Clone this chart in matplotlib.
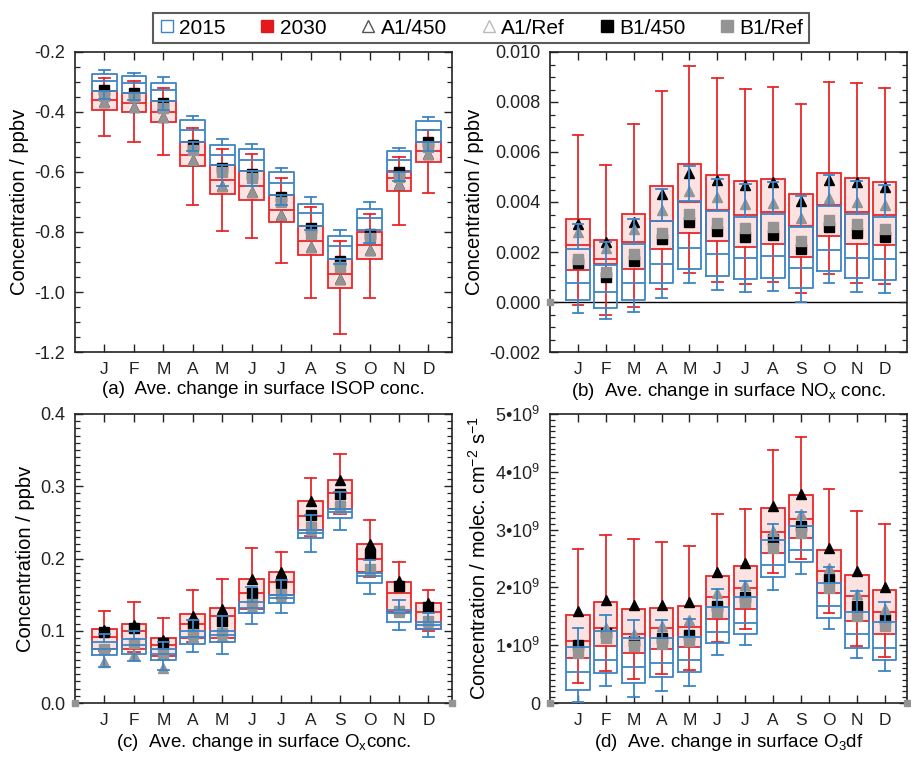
import numpy as np
import matplotlib
matplotlib.use('Agg')
import matplotlib.pyplot as plt
from matplotlib.lines import Line2D
from matplotlib.ticker import MultipleLocator, NullLocator

plt.rcParams['font.family'] = ['Liberation Sans', 'DejaVu Sans']
plt.rcParams['axes.unicode_minus'] = False
plt.rcParams['mathtext.fontset'] = 'custom'
plt.rcParams['mathtext.rm'] = 'Liberation Sans'
plt.rcParams['mathtext.it'] = 'Liberation Sans:italic'

months = ['J', 'F', 'M', 'A', 'M', 'J', 'J', 'A', 'S', 'O', 'N', 'D']

# each row: [low whisker, q1, median, q3, high whisker]
# (a) ISOP, ppbv
isop_2015 = [[-0.355, -0.330, -0.297, -0.274, -0.260],
             [-0.360, -0.335, -0.303, -0.280, -0.270],
             [-0.392, -0.363, -0.325, -0.303, -0.284],
             [-0.530, -0.500, -0.461, -0.428, -0.414],
             [-0.648, -0.578, -0.542, -0.509, -0.491],
             [-0.648, -0.597, -0.559, -0.524, -0.505],
             [-0.711, -0.675, -0.635, -0.600, -0.585],
             [-0.794, -0.780, -0.737, -0.708, -0.683],
             [-0.905, -0.889, -0.847, -0.813, -0.794],
             [-0.835, -0.794, -0.752, -0.722, -0.700],
             [-0.630, -0.600, -0.560, -0.530, -0.520],
             [-0.530, -0.500, -0.460, -0.430, -0.415]]
isop_2030 = [[-0.480, -0.392, -0.361, -0.330, -0.288],
             [-0.500, -0.400, -0.369, -0.335, -0.297],
             [-0.543, -0.433, -0.400, -0.363, -0.319],
             [-0.711, -0.581, -0.543, -0.500, -0.453],
             [-0.798, -0.672, -0.625, -0.578, -0.524],
             [-0.820, -0.692, -0.648, -0.597, -0.541],
             [-0.903, -0.767, -0.725, -0.675, -0.620],
             [-1.020, -0.878, -0.830, -0.780, -0.717],
             [-1.140, -0.987, -0.939, -0.889, -0.831],
             [-1.020, -0.889, -0.844, -0.800, -0.741],
             [-0.778, -0.663, -0.620, -0.595, -0.550],
             [-0.669, -0.565, -0.530, -0.500, -0.460]]
isop_a1_450 = [-0.368, -0.383, -0.417, -0.561, -0.648, -0.667, -0.744, -0.850, -0.955, -0.861, -0.640, -0.540]
isop_a1_ref = [-0.368, -0.383, -0.417, -0.561, -0.648, -0.667, -0.744, -0.850, -0.955, -0.861, -0.640, -0.540]
isop_b1_450 = [-0.328, -0.335, -0.370, -0.510, -0.585, -0.605, -0.683, -0.788, -0.898, -0.805, -0.600, -0.500]
isop_b1_ref = [-0.345, -0.350, -0.385, -0.525, -0.600, -0.620, -0.700, -0.805, -0.915, -0.820, -0.615, -0.515]

# (b) NOx, ppbv
nox_2015 = [[-0.00043, 0.00008, 0.00075, 0.00212, 0.00314],
            [-0.00066, -0.00023, 0.00041, 0.00149, 0.00241],
            [-0.00039, 0.00008, 0.00075, 0.00232, 0.00332],
            [0.00017, 0.00075, 0.00154, 0.00324, 0.00452],
            [0.00078, 0.00134, 0.00218, 0.00405, 0.00543],
            [0.00047, 0.00105, 0.00192, 0.00366, 0.00493],
            [0.00040, 0.00094, 0.00176, 0.00342, 0.00473],
            [0.00046, 0.00098, 0.00185, 0.00353, 0.00480],
            [0.00000, 0.00058, 0.00135, 0.00299, 0.00424],
            [0.00075, 0.00125, 0.00208, 0.00383, 0.00507],
            [0.00040, 0.00098, 0.00176, 0.00353, 0.00483],
            [0.00035, 0.00088, 0.00172, 0.00342, 0.00470]]
nox_2030 = [[-0.00012, 0.00127, 0.00228, 0.00331, 0.00670],
            [-0.00052, 0.00152, 0.00172, 0.00249, 0.00547],
            [-0.00019, 0.00134, 0.00241, 0.00351, 0.00712],
            [0.00053, 0.00212, 0.00324, 0.00464, 0.00844],
            [0.00118, 0.00276, 0.00399, 0.00551, 0.00946],
            [0.00082, 0.00245, 0.00370, 0.00507, 0.00895],
            [0.00071, 0.00221, 0.00350, 0.00483, 0.00852],
            [0.00082, 0.00232, 0.00360, 0.00493, 0.00862],
            [0.00035, 0.00181, 0.00305, 0.00433, 0.00791],
            [0.00111, 0.00265, 0.00390, 0.00516, 0.00882],
            [0.00075, 0.00232, 0.00360, 0.00497, 0.00875],
            [0.00071, 0.00228, 0.00350, 0.00480, 0.00855]]
nox_a1_450 = [0.00312, 0.00241, 0.00320, 0.00433, 0.00516, 0.00487, 0.00467, 0.00480, 0.00406, 0.00489, 0.00480, 0.00460]
nox_a1_ref = [0.00279, 0.00218, 0.00292, 0.00369, 0.00446, 0.00419, 0.00393, 0.00395, 0.00335, 0.00417, 0.00402, 0.00389]
nox_b1_450 = [0.00158, 0.00101, 0.00165, 0.00252, 0.00322, 0.00283, 0.00261, 0.00268, 0.00212, 0.00299, 0.00275, 0.00261]
nox_b1_ref = [0.00172, 0.00122, 0.00192, 0.00275, 0.00353, 0.00315, 0.00296, 0.00299, 0.00245, 0.00330, 0.00312, 0.00292]

# (c) Ox, ppbv
ox_2015 = [[0.050, 0.066, 0.075, 0.085, 0.095],
           [0.058, 0.068, 0.080, 0.088, 0.100],
           [0.045, 0.060, 0.068, 0.075, 0.085],
           [0.070, 0.082, 0.092, 0.100, 0.115],
           [0.068, 0.085, 0.094, 0.100, 0.120],
           [0.110, 0.124, 0.131, 0.140, 0.160],
           [0.125, 0.139, 0.145, 0.149, 0.170],
           [0.209, 0.228, 0.235, 0.239, 0.260],
           [0.239, 0.2565, 0.265, 0.269, 0.292],
           [0.151, 0.166, 0.176, 0.1795, 0.198],
           [0.101, 0.1125, 0.124, 0.129, 0.1425],
           [0.092, 0.103, 0.108, 0.1125, 0.125]]
ox_2030 = [[0.072, 0.075, 0.092, 0.102, 0.128],
           [0.070, 0.075, 0.100, 0.110, 0.140],
           [0.060, 0.065, 0.080, 0.090, 0.117],
           [0.085, 0.090, 0.110, 0.123, 0.156],
           [0.085, 0.090, 0.120, 0.132, 0.171],
           [0.125, 0.130, 0.152, 0.172, 0.215],
           [0.145, 0.149, 0.167, 0.182, 0.209],
           [0.231, 0.239, 0.259, 0.279, 0.312],
           [0.261, 0.2685, 0.291, 0.308, 0.345],
           [0.175, 0.182, 0.200, 0.220, 0.253],
           [0.124, 0.126, 0.152, 0.168, 0.195],
           [0.100, 0.103, 0.126, 0.138, 0.156]]
ox_a1_450 = [0.101, 0.108, 0.087, 0.120, 0.130, 0.172, 0.182, 0.279, 0.308, 0.220, 0.169, 0.138]
ox_a1_ref = [0.057, 0.066, 0.048, 0.092, 0.093, 0.133, 0.147, 0.240, 0.270, 0.183, 0.126, 0.110]
ox_b1_450 = [0.098, 0.104, 0.083, 0.110, 0.113, 0.152, 0.166, 0.260, 0.289, 0.206, 0.162, 0.133]
ox_b1_ref = [0.075, 0.083, 0.068, 0.095, 0.097, 0.137, 0.151, 0.243, 0.273, 0.186, 0.128, 0.114]

# (d) O3 dry deposition, in units of 1e9 molec cm-2 s-1
o3df_2015 = [[0.02, 0.22, 0.53, 0.97, 1.29],
             [0.30, 0.52, 0.75, 1.24, 1.53],
             [0.10, 0.35, 0.62, 1.12, 1.44],
             [0.20, 0.45, 0.69, 1.12, 1.44],
             [0.30, 0.54, 0.75, 1.14, 1.45],
             [0.83, 1.03, 1.23, 1.66, 1.98],
             [1.00, 1.20, 1.39, 1.84, 2.11],
             [1.95, 2.18, 2.38, 2.82, 3.09],
             [2.24, 2.44, 2.64, 3.06, 3.31],
             [1.28, 1.47, 1.68, 2.07, 2.36],
             [0.78, 0.95, 1.19, 1.58, 1.94],
             [0.55, 0.74, 0.96, 1.41, 1.75]]
o3df_2030 = [[0.35, 0.77, 1.07, 1.53, 2.66],
             [0.56, 0.99, 1.30, 1.75, 2.90],
             [0.42, 0.87, 1.19, 1.62, 2.83],
             [0.50, 0.93, 1.29, 1.65, 2.79],
             [0.57, 0.97, 1.32, 1.68, 2.72],
             [1.06, 1.46, 1.84, 2.19, 3.27],
             [1.28, 1.62, 1.99, 2.37, 3.36],
             [2.25, 2.59, 2.95, 3.37, 4.37],
             [2.50, 2.86, 3.19, 3.59, 4.60],
             [1.55, 1.91, 2.28, 2.64, 3.70],
             [0.99, 1.42, 1.85, 2.22, 3.33],
             [0.80, 1.20, 1.58, 1.95, 3.09]]
o3df_a1_450 = [1.59, 1.79, 1.69, 1.69, 1.75, 2.26, 2.43, 3.41, 3.62, 2.68, 2.28, 2.01]
o3df_a1_ref = [0.90, 1.30, 1.19, 1.33, 1.44, 1.90, 2.04, 2.97, 3.27, 2.33, 1.88, 1.62]
o3df_b1_450 = [1.00, 1.21, 1.07, 1.13, 1.17, 1.68, 1.84, 2.83, 3.07, 2.14, 1.68, 1.45]
o3df_b1_ref = [0.87, 1.13, 0.99, 1.02, 1.07, 1.57, 1.74, 2.68, 2.94, 1.99, 1.50, 1.33]

BLUE = '#3d85c6'
RED = '#e8262b'
PINK = '#fde2e2'
GRAY = '#949494'


def to_stats(rows):
    return [dict(whislo=r[0], q1=r[1], med=r[2], q3=r[3], whishi=r[4], fliers=[]) for r in rows]


def draw_panel(ax, s2015, s2030, a1_450, a1_ref, b1_450, b1_ref):
    x = np.arange(1, len(months) + 1)
    lw = 1.3
    ax.bxp(to_stats(s2030), positions=x, widths=0.84, capwidths=0.38,
           patch_artist=True, showfliers=False, manage_ticks=False,
           boxprops=dict(facecolor=PINK, edgecolor=RED, linewidth=lw),
           medianprops=dict(color=RED, linewidth=lw),
           whiskerprops=dict(color=RED, linewidth=lw),
           capprops=dict(color=RED, linewidth=lw), zorder=2)
    ax.plot(x, a1_450, ls='none', marker='^', color='black', ms=6.5, zorder=3)
    ax.plot(x, b1_450, ls='none', marker='s', color='black', ms=6.5, zorder=3)
    ax.plot(x, a1_ref, ls='none', marker='^', color=GRAY, ms=6.5, zorder=3)
    ax.plot(x, b1_ref, ls='none', marker='s', color=GRAY, ms=6.5, zorder=3)
    ax.bxp(to_stats(s2015), positions=x, widths=0.84, capwidths=0.38,
           showfliers=False, manage_ticks=False,
           boxprops=dict(color=BLUE, linewidth=lw),
           medianprops=dict(color=BLUE, linewidth=lw),
           whiskerprops=dict(color=BLUE, linewidth=lw),
           capprops=dict(color=BLUE, linewidth=lw), zorder=4)
    ax.set_xlim(0, 12.8)
    ax.set_xticks(x)
    ax.set_xticklabels(months, fontsize=12.5)
    ax.xaxis.set_minor_locator(NullLocator())
    ax.tick_params(which='both', direction='in', top=True, right=True, colors='#222222')
    ax.tick_params(which='major', length=6, width=1.0, pad=7)
    ax.tick_params(which='minor', length=3.5, width=0.9)
    ax.tick_params(axis='y', labelsize=13)
    for sp in ax.spines.values():
        sp.set_linewidth(1.2)
        sp.set_color('#222222')


fig = plt.figure(figsize=(9.11, 7.57), dpi=100)
W, H = 911, 757
ax_a = fig.add_axes([75 / W, 1 - 352 / H, 377 / W, 300 / H])
ax_b = fig.add_axes([550 / W, 1 - 352 / H, 357 / W, 300 / H])
ax_c = fig.add_axes([75 / W, 1 - 703 / H, 377 / W, 289 / H])
ax_d = fig.add_axes([550 / W, 1 - 703 / H, 357 / W, 289 / H])

draw_panel(ax_a, isop_2015, isop_2030, isop_a1_450, isop_a1_ref, isop_b1_450, isop_b1_ref)
ax_a.set_ylim(-1.2, -0.2)
ax_a.yaxis.set_major_locator(MultipleLocator(0.2))
ax_a.yaxis.set_minor_locator(MultipleLocator(0.05))
ax_a.yaxis.set_major_formatter(lambda v, p: f'{v:.1f}')
ax_a.set_ylabel('Concentration / ppbv', fontsize=14.5)
ax_a.set_xlabel('(a)  Ave. change in surface ISOP conc.', fontsize=13.5, labelpad=3)

draw_panel(ax_b, nox_2015, nox_2030, nox_a1_450, nox_a1_ref, nox_b1_450, nox_b1_ref)
ax_b.axhline(0, color='black', lw=1.0, zorder=1)
ax_b.set_ylim(-0.002, 0.010)
ax_b.yaxis.set_major_locator(MultipleLocator(0.002))
ax_b.yaxis.set_minor_locator(MultipleLocator(0.0005))
ax_b.yaxis.set_major_formatter(lambda v, p: f'{v:.3f}')
ax_b.set_ylabel('Concentration / ppbv', fontsize=14.5)
ax_b.set_xlabel('(b)  Ave. change in surface NO$_\\mathrm{x}$ conc.', fontsize=13.5, labelpad=3)
ax_b.plot([0], [0], ls='none', marker='s', color=GRAY, ms=5, clip_on=False, zorder=6)

draw_panel(ax_c, ox_2015, ox_2030, ox_a1_450, ox_a1_ref, ox_b1_450, ox_b1_ref)
ax_c.set_ylim(0, 0.4)
ax_c.yaxis.set_major_locator(MultipleLocator(0.1))
ax_c.yaxis.set_minor_locator(MultipleLocator(0.01))
ax_c.yaxis.set_major_formatter(lambda v, p: f'{v:.1f}')
ax_c.set_ylabel('Concentration / ppbv', fontsize=14.5)
ax_c.set_xlabel('(c)  Ave. change in surface O$_\\mathrm{x}$conc.', fontsize=13.5, labelpad=3)
ax_c.plot([0, 12.8], [0, 0], ls='none', marker='s', color=GRAY, ms=5, clip_on=False, zorder=6)

draw_panel(ax_d, o3df_2015, o3df_2030, o3df_a1_450, o3df_a1_ref, o3df_b1_450, o3df_b1_ref)
ax_d.set_ylim(0, 5)
ax_d.yaxis.set_major_locator(MultipleLocator(1))
ax_d.yaxis.set_minor_locator(MultipleLocator(0.1))
ax_d.yaxis.set_major_formatter(lambda v, p: '0' if v == 0 else f'{v:.0f}\u202210$^9$')
ax_d.set_ylabel('Concentration / molec. cm$^{-2}$ s$^{-1}$', fontsize=14.5)
ax_d.set_xlabel('(d)  Ave. change in surface O$_3$df', fontsize=13.5, labelpad=3)
ax_d.plot([0, 12.8], [0, 0], ls='none', marker='s', color=GRAY, ms=5, clip_on=False, zorder=6)

handles = [
    Line2D([], [], ls='none', marker='s', mfc='white', mec=BLUE, ms=9, label='2015'),
    Line2D([], [], ls='none', marker='s', mfc='#e31a1c', mec='#e31a1c', ms=9, label='2030'),
    Line2D([], [], ls='none', marker='^', mfc='white', mec='#555555', ms=9, label='A1/450'),
    Line2D([], [], ls='none', marker='^', mfc='white', mec='#bbbbbb', ms=9, label='A1/Ref'),
    Line2D([], [], ls='none', marker='s', mfc='black', mec='black', ms=9, label='B1/450'),
    Line2D([], [], ls='none', marker='s', mfc=GRAY, mec=GRAY, ms=9, label='B1/Ref'),
]
leg = fig.legend(handles=handles, loc='center', bbox_to_anchor=(481 / W, 1 - 28 / H), ncol=6,
                 frameon=True, fancybox=False, edgecolor='#333333', fontsize=15,
                 handlelength=0.8, handletextpad=0.2, columnspacing=1.6, borderpad=0.25)
leg.get_frame().set_linewidth(1.5)

fig.savefig('out.png', dpi=100)
